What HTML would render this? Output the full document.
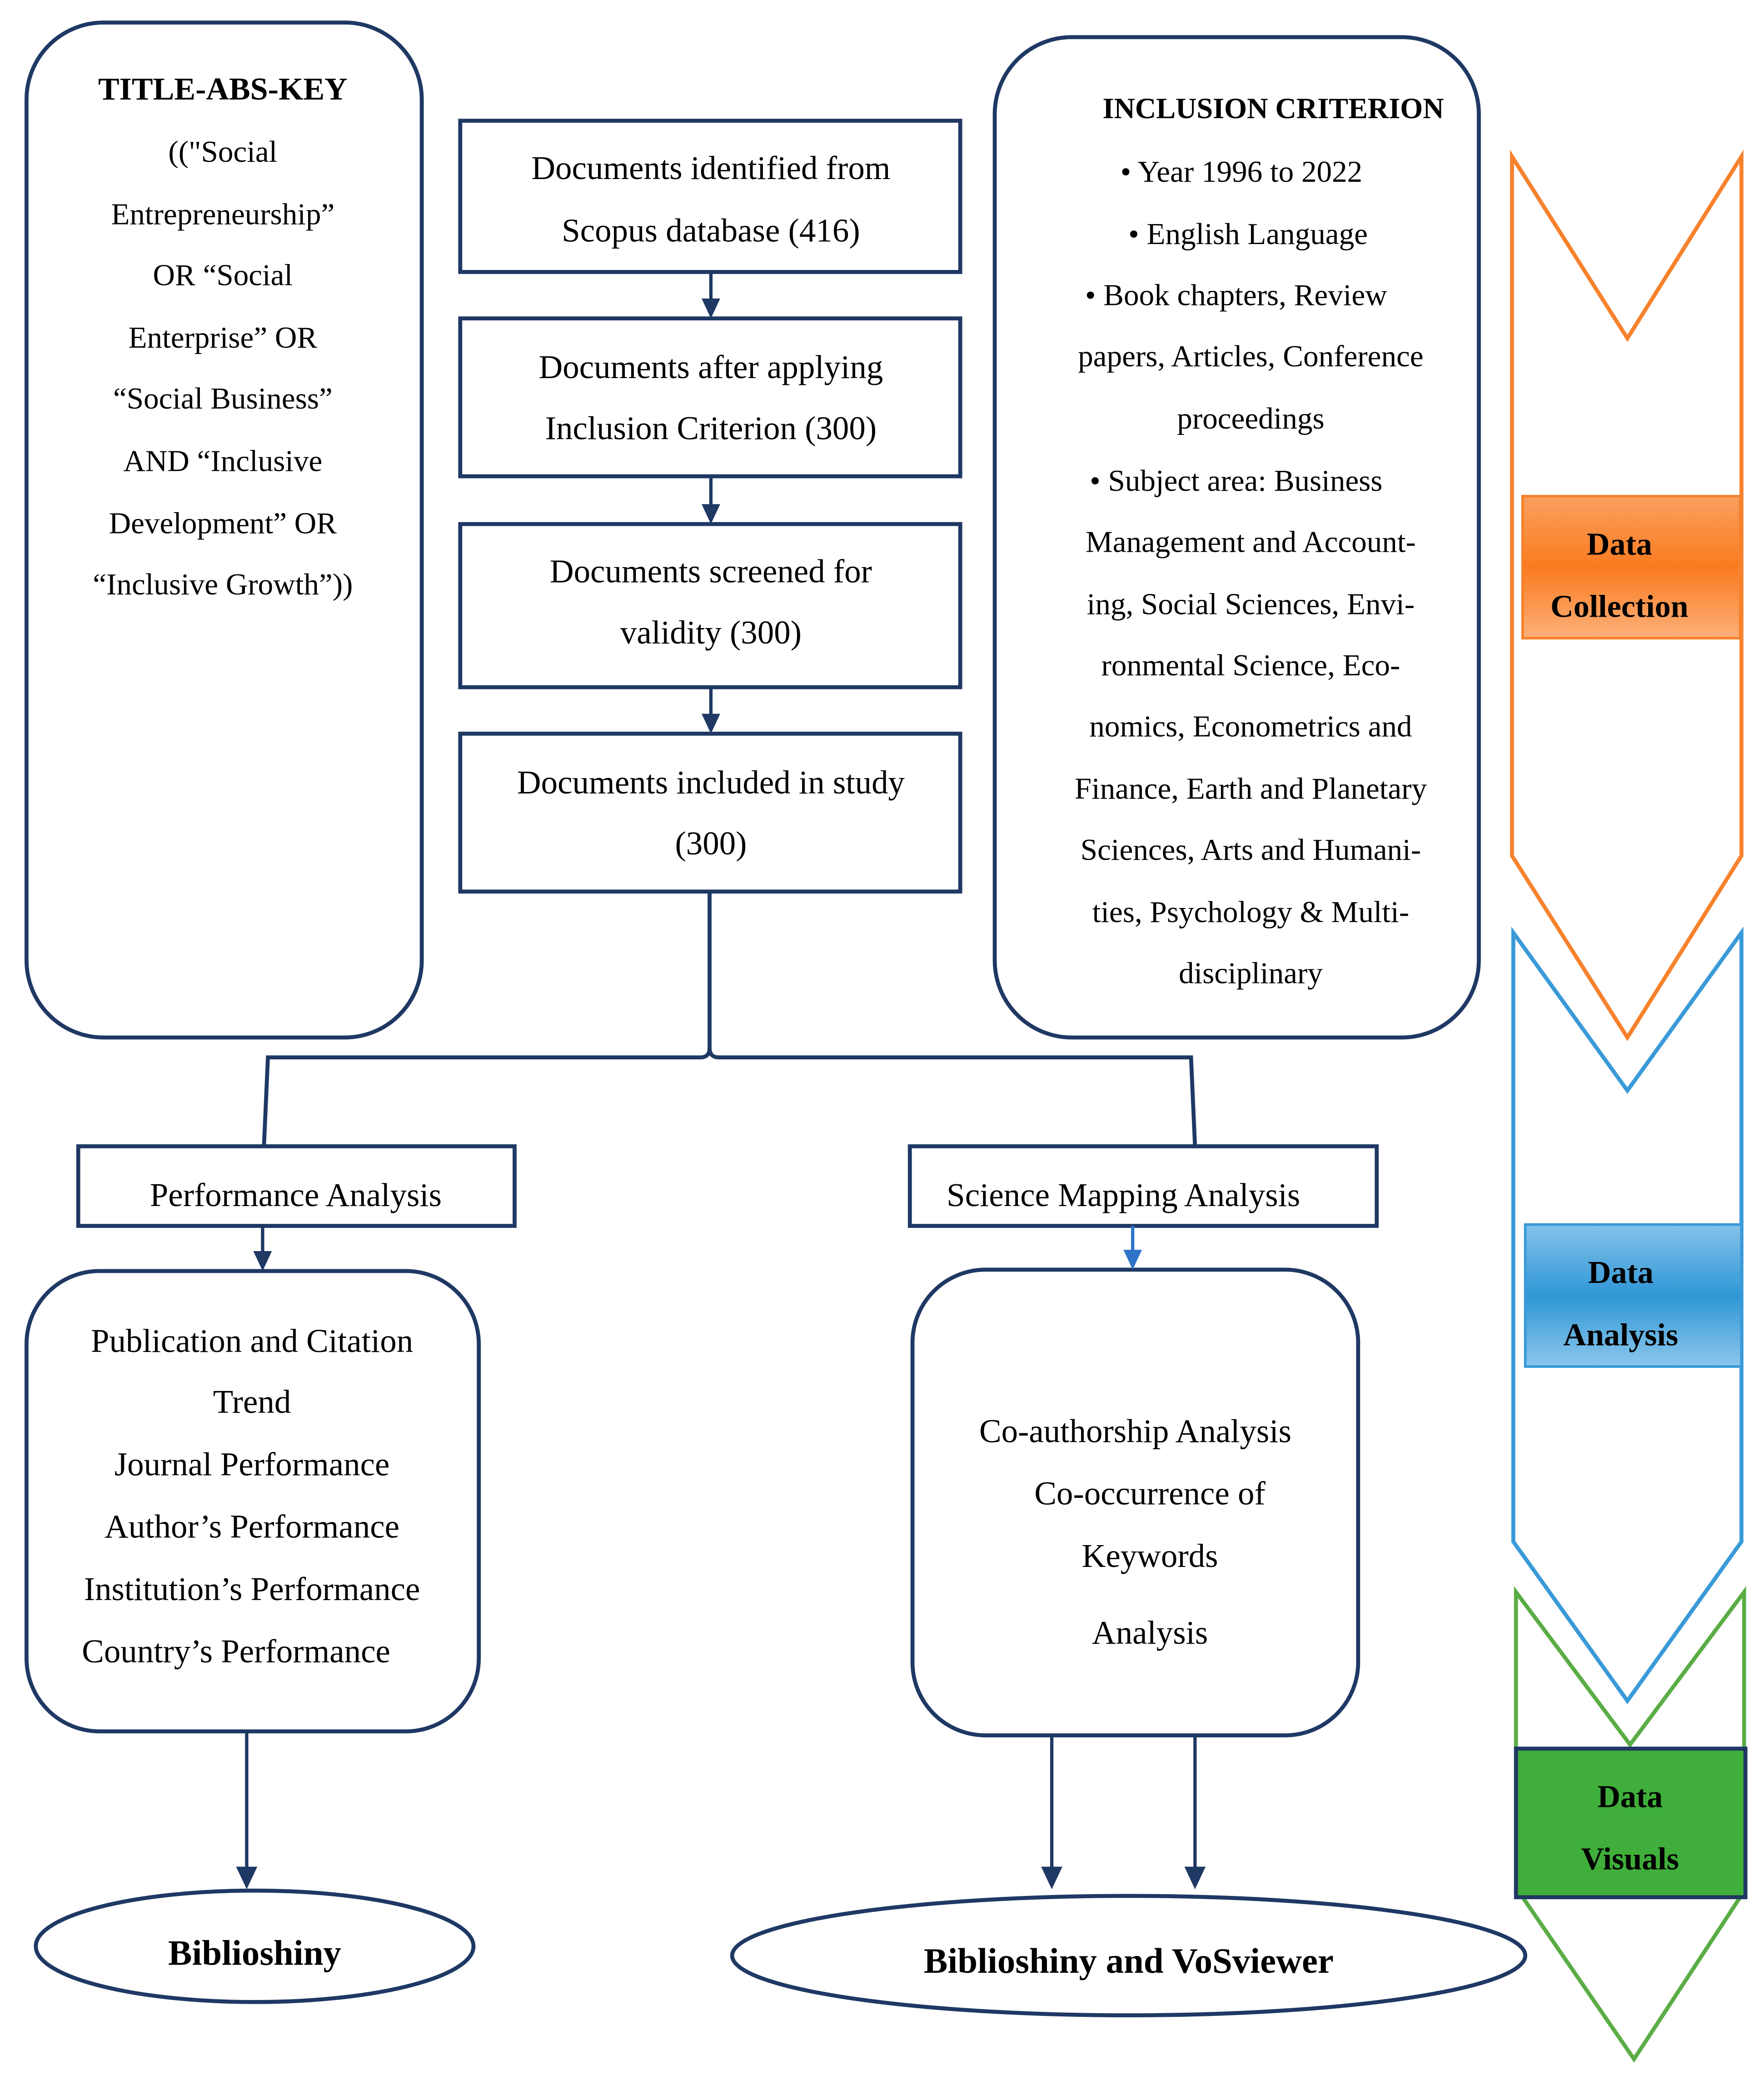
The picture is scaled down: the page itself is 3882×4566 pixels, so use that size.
<!DOCTYPE html>
<html><head><meta charset="utf-8"><style>
html,body{margin:0;padding:0;background:#fff}
svg{display:block}
text{font-family:"Liberation Serif",serif;fill:#000}
</style></head><body>
<svg width="3882" height="4566" viewBox="0 0 1330 1564" preserveAspectRatio="none" xmlns="http://www.w3.org/2000/svg">
<defs>
<linearGradient id="og" x1="0" y1="0" x2="0" y2="1"><stop offset="0" stop-color="#f9a060"/><stop offset="0.5" stop-color="#fb7b1f"/><stop offset="1" stop-color="#fcb07a"/></linearGradient>
<linearGradient id="bg" x1="0" y1="0" x2="0" y2="1"><stop offset="0" stop-color="#86c2ea"/><stop offset="0.5" stop-color="#2f97d6"/><stop offset="1" stop-color="#8cc6ec"/></linearGradient>
</defs>
<g fill="none" stroke="#1f3864" stroke-width="3">
<rect x="20" y="17" width="298" height="765" rx="58"/>
<rect x="750" y="28" width="365" height="754" rx="58"/>
<rect x="347" y="91" width="377" height="114"/>
<rect x="347" y="240" width="377" height="119"/>
<rect x="347" y="395" width="377" height="123"/>
<rect x="347" y="553" width="377" height="119"/>
<rect x="59" y="864" width="329" height="60"/>
<rect x="686" y="864" width="352" height="60"/>
<rect x="20" y="958" width="341" height="347" rx="55"/>
<rect x="688" y="957" width="336" height="351" rx="55"/>
<ellipse cx="192" cy="1467" rx="165" ry="42"/>
<ellipse cx="851" cy="1474" rx="299" ry="45"/>
<path d="M535,672 L535,790 Q535,797 528,797 L202,797 L199,864"/>
<path d="M535,790 Q535,797 542,797 L898,797 L901,864"/>
</g>
<g stroke="#1f3864" stroke-width="2.5">
<line x1="536" y1="205" x2="536" y2="228"/>
<line x1="536" y1="359" x2="536" y2="383"/>
<line x1="536" y1="518" x2="536" y2="541"/>
<line x1="198" y1="924" x2="198" y2="946"/>
<line x1="186" y1="1305" x2="186" y2="1410"/>
<line x1="793" y1="1308" x2="793" y2="1410"/>
<line x1="901" y1="1308" x2="901" y2="1410"/>
</g>
<g fill="#1f3864">
<path d="M529,225 L543,225 L536,240z"/>
<path d="M529,380 L543,380 L536,395z"/>
<path d="M529,538 L543,538 L536,553z"/>
<path d="M191,943 L205,943 L198,958z"/>
<path d="M178,1407 L194,1407 L186,1424z"/>
<path d="M785,1407 L801,1407 L793,1424z"/>
<path d="M893,1407 L909,1407 L901,1424z"/>
</g>
<line x1="854" y1="924" x2="854" y2="944" stroke="#2e75c8" stroke-width="2.5"/>
<path d="M847,942 L861,942 L854,957z" fill="#2e75c8"/>
<path d="M1140,118 L1227,255 L1313,118 L1313,645 L1227,782 L1140,645 Z" fill="none" stroke="#f7822d" stroke-width="3"/>
<path d="M1141,703 L1227,822 L1313,703 L1313,1162 L1227,1282 L1141,1162 Z" fill="none" stroke="#3a9ad8" stroke-width="3"/>
<path d="M1143,1318 L1143,1200 L1229,1315 L1315,1200 L1315,1318 M1148,1430 L1232,1552 L1312,1430" fill="none" stroke="#5aad45" stroke-width="3"/>
<rect x="1148" y="374" width="164" height="107" fill="url(#og)" stroke="#f7822d" stroke-width="2"/>
<rect x="1150" y="923" width="163" height="107" fill="url(#bg)" stroke="#3a9ad8" stroke-width="2"/>
<rect x="1143" y="1318" width="173" height="112" fill="#3fae3a" stroke="#1f3864" stroke-width="3"/>
<g font-size="23" text-anchor="middle">
<text x="168" y="75" font-weight="bold" font-size="24">TITLE-ABS-KEY</text>
<text x="168" y="122">(("Social</text>
<text x="168" y="169">Entrepreneurship”</text>
<text x="168" y="215">OR “Social</text>
<text x="168" y="262">Enterprise” OR</text>
<text x="168" y="308">“Social Business”</text>
<text x="168" y="355">AND “Inclusive</text>
<text x="168" y="402">Development” OR</text>
<text x="168" y="448">“Inclusive Growth”))</text>
<text x="536" y="135" font-size="25">Documents identified from</text>
<text x="536" y="182" font-size="25">Scopus database (416)</text>
<text x="536" y="285" font-size="25">Documents after applying</text>
<text x="536" y="331" font-size="25">Inclusion Criterion (300)</text>
<text x="536" y="439" font-size="25">Documents screened for</text>
<text x="536" y="485" font-size="25">validity (300)</text>
<text x="536" y="598" font-size="25">Documents included in study</text>
<text x="536" y="644" font-size="25">(300)</text>
<text x="960" y="89" font-weight="bold" font-size="22">INCLUSION CRITERION</text>
<text x="936" y="137">•  Year 1996 to 2022</text>
<text x="941" y="184">•  English Language</text>
<text x="932" y="230">•  Book chapters, Review</text>
<text x="943" y="276">papers, Articles, Conference</text>
<text x="943" y="323">proceedings</text>
<text x="932" y="370">•  Subject area: Business</text>
<text x="943" y="416">Management and Account-</text>
<text x="943" y="463">ing, Social Sciences, Envi-</text>
<text x="943" y="509">ronmental Science, Eco-</text>
<text x="943" y="555">nomics, Econometrics and</text>
<text x="943" y="602">Finance, Earth and Planetary</text>
<text x="943" y="648">Sciences, Arts and Humani-</text>
<text x="943" y="695">ties, Psychology &amp; Multi-</text>
<text x="943" y="741">disciplinary</text>
<text x="223" y="909" font-size="25">Performance Analysis</text>
<text x="847" y="909" font-size="25">Science Mapping Analysis</text>
<text x="190" y="1019" font-size="25">Publication and Citation</text>
<text x="190" y="1065" font-size="25">Trend</text>
<text x="190" y="1112" font-size="25">Journal Performance</text>
<text x="190" y="1159" font-size="25">Author’s Performance</text>
<text x="190" y="1206" font-size="25">Institution’s Performance</text>
<text x="178" y="1253" font-size="25">Country’s Performance</text>
<text x="856" y="1087" font-size="25">Co-authorship Analysis</text>
<text x="867" y="1134" font-size="25">Co-occurrence of</text>
<text x="867" y="1181" font-size="25">Keywords</text>
<text x="867" y="1239" font-size="25">Analysis</text>
<text x="192" y="1481" font-size="27" font-weight="bold">Biblioshiny</text>
<text x="851" y="1487" font-size="27" font-weight="bold">Biblioshiny and VoSviewer</text>
<text x="1221" y="418" font-weight="bold" font-size="24">Data</text>
<text x="1221" y="465" font-weight="bold" font-size="24">Collection</text>
<text x="1222" y="967" font-weight="bold" font-size="24">Data</text>
<text x="1222" y="1014" font-weight="bold" font-size="24">Analysis</text>
<text x="1229" y="1362" font-weight="bold" font-size="24">Data</text>
<text x="1229" y="1409" font-weight="bold" font-size="24">Visuals</text>
</g>
</svg>
</body></html>
